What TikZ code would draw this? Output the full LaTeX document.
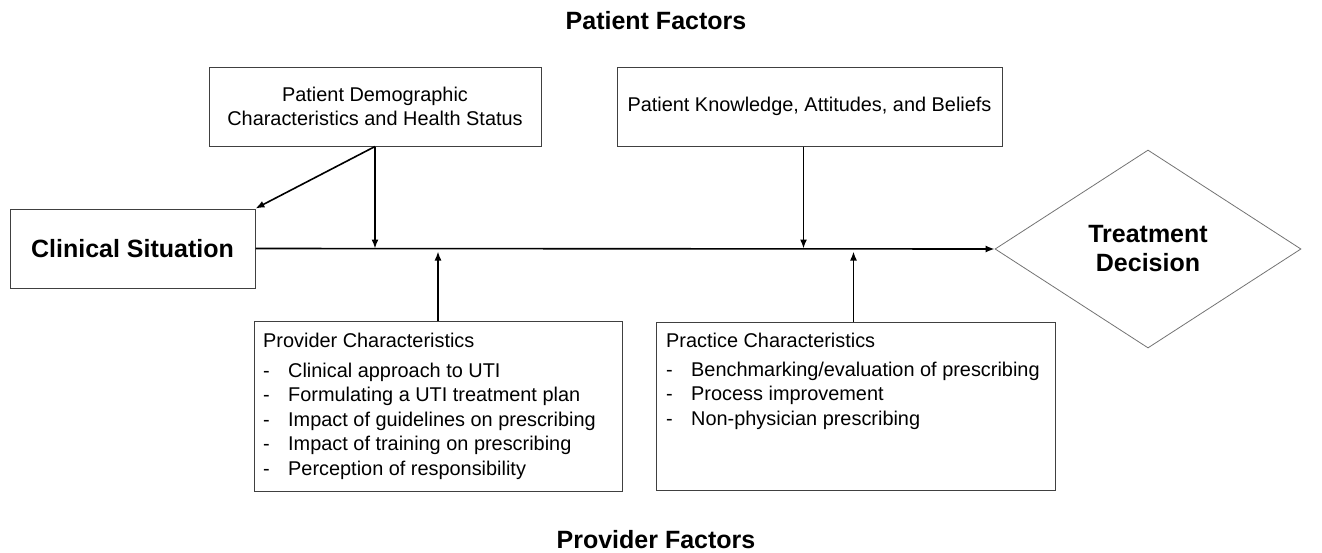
\documentclass[tikz,border=0pt]{standalone}
\usepackage{fontspec}
\setmainfont{Liberation Sans}
\usetikzlibrary{arrows.meta,shapes.geometric}
\newcommand{\itm}[1]{\makebox[25pt][l]{-}#1}
\begin{document}
\begin{tikzpicture}
        [x=1pt, y=-1pt,
        box/.style={draw=black!75, line width=1pt, inner sep=0pt},
        bigtext/.style={font=\fontsize{25}{29}\selectfont\bfseries},
        smalltext/.style={font=\fontsize{19.9}{24.5}\selectfont},
        arrow/.style={line width=1.6pt, black, -{Latex[length=9pt,width=7pt]}}]

        \useasboundingbox (0,0) rectangle (1322,552);

        % titles
        \node[bigtext] (ptitle) at (656,21) {Patient Factors};
        \node[bigtext] (vtitle) at (656,540) {Provider Factors};

        % main boxes
        \node[box, bigtext, minimum width=245pt, minimum height=79pt] (clin) at (132.5,248.5) {Clinical Situation};
        \node[diamond, draw=black!55, line width=0.8pt, inner sep=0pt, minimum width=306pt, minimum height=198pt,
              bigtext, align=center] (dec) at (1148,249) {Treatment\\Decision};

        % patient factor boxes
        \node[box, smalltext, minimum width=332pt, minimum height=79pt, align=center] (demo) at (375,106.5)
              {Patient Demographic\\Characteristics and Health Status};
        \node[box, smalltext, minimum width=385pt, minimum height=79pt] (know) at (809.5,106.5)
              {Patient Knowledge, Attitudes, and Beliefs};

        % provider factor boxes
        \node[box, minimum width=368pt, minimum height=170pt] (prov) at (438,406) {};
        \node[box, minimum width=399pt, minimum height=168pt] (prac) at (855.5,406) {};
        \node[smalltext, align=left, anchor=north west, inner sep=0pt] (provtxt) at (263,333)
              {Provider Characteristics\\[5pt]
               \itm{Clinical approach to UTI}\\
               \itm{Formulating a UTI treatment plan}\\
               \itm{Impact of guidelines on prescribing}\\
               \itm{Impact of training on prescribing}\\
               \itm{Perception of responsibility}};
        \node[smalltext, align=left, anchor=north west, inner sep=0pt] (practxt) at (666,333)
              {Practice Characteristics\\[4pt]
               \itm{Benchmarking/evaluation of prescribing}\\
               \itm{Process improvement}\\
               \itm{Non-physician prescribing}};

        % main line
        \draw[arrow] (clin.east) -- (dec.west);

        % arrows from patient factors
        \draw[arrow] (demo.south) -- (clin.north east);
        \draw[arrow] (demo.south) -- (demo.south |- clin.east);
        \draw[arrow] ([xshift=-6pt]know.south) -- ([xshift=-6pt]know.south |- clin.east);

        % arrows from provider factors
        \draw[arrow] (prov.north) -- ([yshift=-3pt]prov.north |- clin.east);
        \draw[arrow] ([xshift=-2pt]prac.north) -- ([xshift=-2pt,yshift=-3pt]prac.north |- clin.east);

        \end{tikzpicture}
\end{document}
